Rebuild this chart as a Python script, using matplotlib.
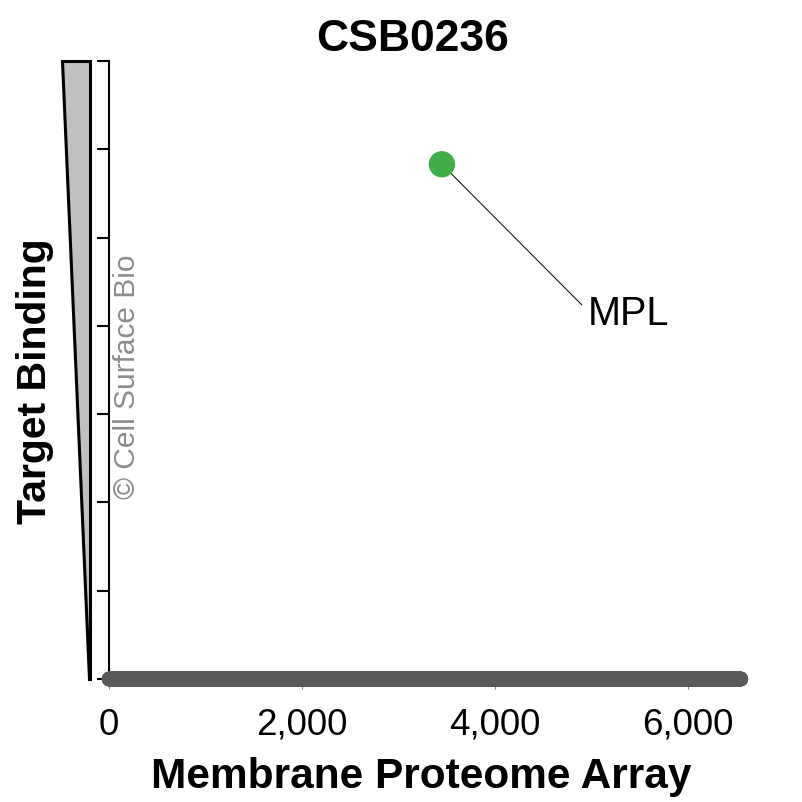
import numpy as np
import matplotlib.pyplot as plt
from matplotlib.patches import Polygon

plt.rcParams['font.family'] = ['Liberation Sans', 'DejaVu Sans']

# background proteins of the array: index vs binding (all near zero)
n_proteins = 6550
bg_x = np.arange(n_proteins)
bg_y = np.zeros(n_proteins)

# hit
hit_name = 'MPL'
hit_x = 3450
hit_y = 5.83

x_ticks = [0, 2000, 4000, 6000]
y_ticks = [0, 1, 2, 3, 4, 5, 6, 7]

W = H = 803
fig = plt.figure(figsize=(8.03, 8.03), dpi=100)
ax = fig.add_axes([109 / W, 1 - 680 / H, 646.5 / W, 618 / H])

ax.scatter(bg_x, bg_y, s=110, color='#5a5a5a', edgecolors='none', clip_on=False, zorder=3)
ax.scatter([hit_x], [hit_y], s=360, color='#41ad49', edgecolors='none', clip_on=False, zorder=4)
ax.annotate(hit_name, xy=(hit_x, hit_y), xytext=(4960, 4.15), fontsize=28.5,
            ha='left', va='center',
            arrowprops=dict(arrowstyle='-', color='black', lw=0.7, shrinkA=3, shrinkB=0,
                            relpos=(0, 0.55)))

ax.set_xlim(0, 6700)
ax.set_ylim(0, 7)
ax.set_xticks(x_ticks)
ax.set_xticklabels([f'{v:,}' for v in x_ticks])
ax.set_yticks(y_ticks)
ax.set_yticklabels([])

for side in ['top', 'right', 'bottom']:
    ax.spines[side].set_visible(False)
ax.spines['left'].set_linewidth(1.5)
ax.tick_params(axis='y', length=9, width=1.5, direction='out')
ax.tick_params(axis='x', length=7, width=0.8, color='#888888', labelsize=26.5, pad=13)

fig.text(413 / W, 1 - 51 / H, 'CSB0236', fontsize=32, fontweight='bold',
         ha='center', va='baseline')
fig.text(421 / W, 1 - 788 / H, 'Membrane Proteome Array', fontsize=30.5,
         fontweight='bold', ha='center', va='baseline')

fig.text(35 / W, 1 - 381 / H, 'Target Binding', rotation=90, fontsize=29.5,
         fontweight='bold', ha='center', va='center')
fig.text(127 / W, 1 - 377 / H, '\u00a9 Cell Surface Bio', rotation=90, fontsize=21.5,
         color='#8c8c8c', ha='center', va='center')

tri = Polygon([[62 / W, 1 - 62 / H], [90 / W, 1 - 62 / H], [90 / W, 1 - 680 / H], [89 / W, 1 - 680 / H]],
              closed=True, transform=fig.transFigure, facecolor='#c0c0c0',
              edgecolor='black', lw=2.2, joinstyle='miter')
fig.patches.append(tri)

fig.savefig('out.png', dpi=100)
